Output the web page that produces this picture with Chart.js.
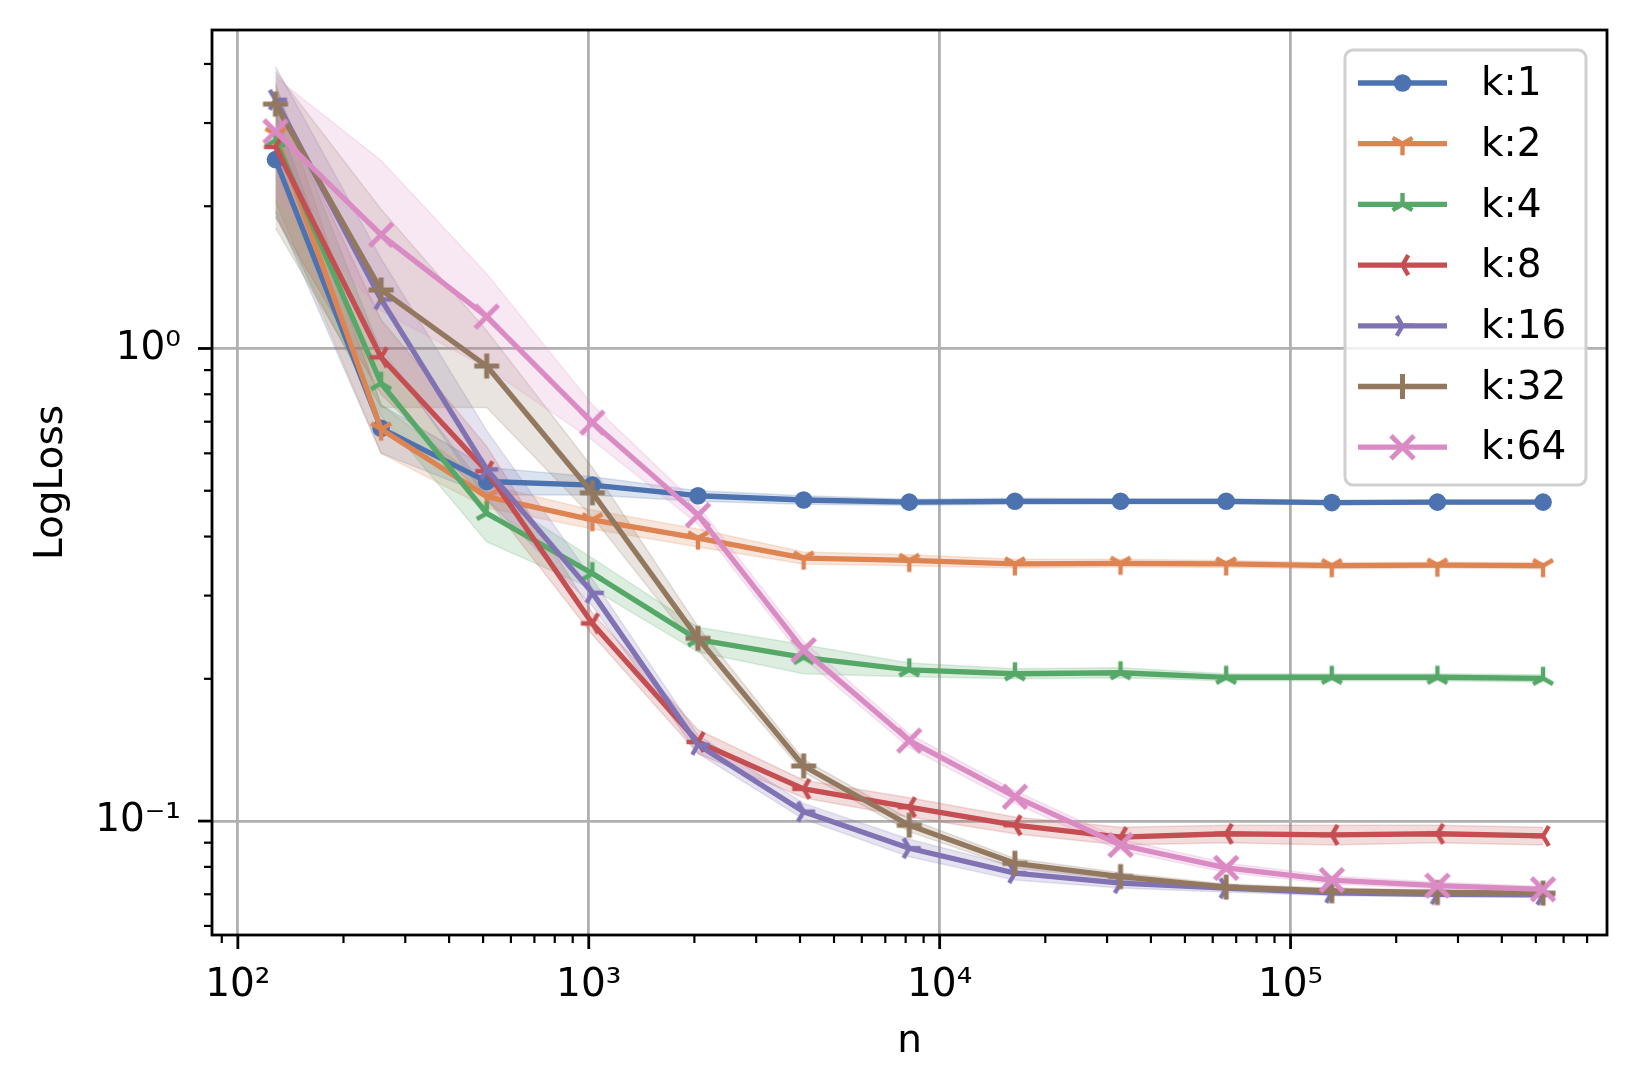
<!DOCTYPE html>
<html>
<head>
<meta charset="utf-8">
<script src="https://cdn.jsdelivr.net/npm/chart.js@4/dist/chart.umd.min.js"></script>
<style>
  html, body { margin: 0; padding: 0; background: #fff; }
  canvas { display: block; }
</style>
</head>
<body>
<canvas id="myChart" width="1636" height="1092"></canvas>
<script>
// sample sizes n
const nValues = [128, 256, 512, 1024, 2048, 4096, 8192, 16384, 32768, 65536, 131072, 262144, 524288];

// mean LogLoss per k
const loss_k1  = [2.51, 0.678, 0.523, 0.514, 0.488, 0.478, 0.473, 0.475, 0.475, 0.475, 0.472, 0.473, 0.473];
const loss_k2  = [2.84, 0.675, 0.486, 0.434, 0.397, 0.360, 0.356, 0.350, 0.351, 0.350, 0.347, 0.348, 0.347];
const loss_k4  = [2.76, 0.844, 0.448, 0.334, 0.242, 0.222, 0.209, 0.205, 0.206, 0.2015, 0.2015, 0.2015, 0.2005];
const loss_k8  = [2.67, 0.958, 0.550, 0.262, 0.147, 0.117, 0.107, 0.098, 0.0925, 0.094, 0.0935, 0.094, 0.093];
const loss_k16 = [3.36, 1.27, 0.555, 0.304, 0.145, 0.1047, 0.0876, 0.0776, 0.0739, 0.0721, 0.0705, 0.0700, 0.0698];
const loss_k32 = [3.29, 1.33, 0.918, 0.495, 0.2436, 0.1308, 0.098, 0.0814, 0.0763, 0.0725, 0.0712, 0.0706, 0.0704];
const loss_k64 = [2.88, 1.74, 1.168, 0.697, 0.444, 0.230, 0.148, 0.1126, 0.089, 0.0796, 0.0750, 0.0730, 0.0717];

// shaded band, lower and upper edge
const lo_k1  = [1.95, 0.60, 0.49, 0.49, 0.475, 0.468, 0.466, 0.468, 0.469, 0.469, 0.467, 0.468, 0.468];
const hi_k1  = [3.15, 0.76, 0.56, 0.535, 0.50, 0.488, 0.480, 0.482, 0.481, 0.481, 0.477, 0.478, 0.478];
const lo_k2  = [2.05, 0.60, 0.46, 0.415, 0.38, 0.350, 0.347, 0.343, 0.345, 0.344, 0.342, 0.343, 0.342];
const hi_k2  = [3.65, 0.76, 0.515, 0.455, 0.415, 0.371, 0.366, 0.358, 0.358, 0.356, 0.352, 0.353, 0.352];
const lo_k4  = [1.9, 0.72, 0.39, 0.31, 0.228, 0.205, 0.202, 0.200, 0.201, 0.198, 0.198, 0.198, 0.197];
const hi_k4  = [3.6, 0.98, 0.50, 0.36, 0.257, 0.236, 0.216, 0.210, 0.211, 0.205, 0.205, 0.205, 0.204];
const lo_k8  = [1.9, 0.80, 0.48, 0.248, 0.139, 0.112, 0.102, 0.094, 0.089, 0.090, 0.089, 0.090, 0.089];
const hi_k8  = [3.4, 1.15, 0.62, 0.276, 0.156, 0.122, 0.112, 0.102, 0.097, 0.098, 0.098, 0.098, 0.097];
const lo_k16 = [2.6, 1.0, 0.48, 0.285, 0.139, 0.101, 0.084, 0.075, 0.0722, 0.0708, 0.0695, 0.0692, 0.069];
const hi_k16 = [3.95, 1.55, 0.67, 0.325, 0.152, 0.109, 0.0915, 0.0802, 0.0757, 0.0735, 0.0716, 0.0709, 0.0706];
const lo_k32 = [1.8, 0.75, 0.75, 0.44, 0.23, 0.127, 0.095, 0.0795, 0.0750, 0.0715, 0.0703, 0.0698, 0.0696];
const hi_k32 = [3.85, 1.97, 1.09, 0.56, 0.258, 0.135, 0.101, 0.0833, 0.0777, 0.0736, 0.0722, 0.0715, 0.0713];
const lo_k64 = [2.1, 1.2, 0.91, 0.64, 0.425, 0.221, 0.143, 0.109, 0.0865, 0.0778, 0.0736, 0.0718, 0.0706];
const hi_k64 = [3.75, 2.5, 1.44, 0.76, 0.465, 0.240, 0.153, 0.116, 0.0915, 0.0815, 0.0765, 0.0742, 0.0728];

const seriesLabels = ['k:1', 'k:2', 'k:4', 'k:8', 'k:16', 'k:32', 'k:64'];

const xTickValues = [100, 1000, 10000, 100000];
const xTickLabels = ['10²', '10³', '10⁴', '10⁵'];
const yTickValues = [0.1, 1];
const yTickLabels = ['10⁻¹', '10⁰'];

const means = [loss_k1, loss_k2, loss_k4, loss_k8, loss_k16, loss_k32, loss_k64];
const lows  = [lo_k1, lo_k2, lo_k4, lo_k8, lo_k16, lo_k32, lo_k64];
const highs = [hi_k1, hi_k2, hi_k4, hi_k8, hi_k16, hi_k32, hi_k64];
const colors = ['76,114,176', '221,132,82', '85,168,104', '196,78,82', '129,114,179', '147,120,96', '218,139,195'];
const markers = ['circle', 'tri_down', 'tri_up', 'tri_left', 'tri_right', 'plus', 'x'];

const FONT = '"DejaVu Sans", sans-serif';

function drawMarker(g, kind, color) {
    g.strokeStyle = color;
    g.fillStyle = color;
    g.lineWidth = (kind === 'plus' || kind === 'x') ? 5 : 4.4;
    g.lineCap = 'butt';
    const L = 11.5;
    let segs = [];
    if (kind === 'circle') {
        g.beginPath();
        g.arc(0, 0, 8.8, 0, Math.PI * 2);
        g.fill();
        return;
    } else if (kind === 'tri_down') {
        segs = [[0, L], [-0.866 * L, -0.5 * L], [0.866 * L, -0.5 * L]];
    } else if (kind === 'tri_up') {
        segs = [[0, -L], [-0.866 * L, 0.5 * L], [0.866 * L, 0.5 * L]];
    } else if (kind === 'tri_left') {
        segs = [[-L, 0], [0.5 * L, -0.866 * L], [0.5 * L, 0.866 * L]];
    } else if (kind === 'tri_right') {
        segs = [[L, 0], [-0.5 * L, -0.866 * L], [-0.5 * L, 0.866 * L]];
    } else if (kind === 'plus') {
        segs = [[12.5, 0], [-12.5, 0], [0, 12.5], [0, -12.5]];
    } else if (kind === 'x') {
        segs = [[11.5, 11.5], [-11.5, -11.5], [11.5, -11.5], [-11.5, 11.5]];
    }
    g.beginPath();
    segs.forEach(p => { g.moveTo(0, 0); g.lineTo(p[0], p[1]); });
    g.stroke();
}

function markerCanvas(kind, color) {
    const c = document.createElement('canvas');
    c.width = 36; c.height = 36;
    const g = c.getContext('2d');
    g.translate(18, 18);
    drawMarker(g, kind, color);
    return c;
}

const datasets = [];
means.forEach((m, i) => {
    const col = 'rgb(' + colors[i] + ')';
    // band: upper edge filled down to the lower edge right after it
    datasets.push({
        data: highs[i].map((v, j) => ({ x: nValues[j], y: v })),
        borderColor: 'rgba(' + colors[i] + ',0.2)',
        backgroundColor: 'rgba(' + colors[i] + ',0.2)',
        borderWidth: 1.5,
        pointRadius: 0,
        fill: '+1',
        order: 50 - i
    });
    datasets.push({
        data: lows[i].map((v, j) => ({ x: nValues[j], y: v })),
        borderColor: 'rgba(' + colors[i] + ',0.2)',
        borderWidth: 1.5,
        pointRadius: 0,
        fill: false,
        order: 50 - i
    });
    datasets.push({
        label: seriesLabels[i],
        data: m.map((v, j) => ({ x: nValues[j], y: v })),
        borderColor: col,
        backgroundColor: col,
        borderWidth: 5.3,
        fill: false,
        pointStyle: markers[i] === 'circle' ? 'circle' : markerCanvas(markers[i], col),
        pointRadius: markers[i] === 'circle' ? 8.8 : 12,
        pointBorderWidth: 0,
        order: 20 - i
    });
});

// minor/major ticks, black frame
const framePlugin = {
    id: 'frame',
    afterDraw(chart) {
        const ctx = chart.ctx;
        const a = chart.chartArea;
        const xs = chart.scales.x, ys = chart.scales.y;
        ctx.save();
        ctx.strokeStyle = '#000';
        // x ticks
        for (let d = 1; d <= 5; d++) {
            for (let k = 1; k <= 9; k++) {
                const v = k * Math.pow(10, d);
                if (v < xs.min || v > xs.max) continue;
                const px = xs.getPixelForValue(v);
                const major = k === 1;
                ctx.lineWidth = major ? 2.8 : 2.2;
                ctx.beginPath();
                ctx.moveTo(px, a.bottom);
                ctx.lineTo(px, a.bottom + (major ? 14 : 8));
                ctx.stroke();
            }
        }
        // y ticks
        for (let d = -2; d <= 0; d++) {
            for (let k = 1; k <= 9; k++) {
                const v = k * Math.pow(10, d);
                if (v < ys.min || v > ys.max) continue;
                const py = ys.getPixelForValue(v);
                const major = k === 1;
                ctx.lineWidth = major ? 2.8 : 2.2;
                ctx.beginPath();
                ctx.moveTo(a.left, py);
                ctx.lineTo(a.left - (major ? 14 : 8), py);
                ctx.stroke();
            }
        }
        ctx.lineWidth = 2.8;
        ctx.strokeRect(a.left, a.top, a.right - a.left, a.bottom - a.top);
        ctx.restore();
    }
};

// matplotlib style legend in the upper right corner
const legendPlugin = {
    id: 'mplLegend',
    afterDraw(chart) {
        const ctx = chart.ctx;
        ctx.save();
        ctx.fillStyle = 'rgba(255,255,255,0.8)';
        ctx.strokeStyle = '#d0d0d0';
        ctx.lineWidth = 3;
        ctx.beginPath();
        ctx.roundRect(1345, 50, 241, 435, 8);
        ctx.fill();
        ctx.stroke();
        ctx.font = '39px ' + FONT;
        ctx.textBaseline = 'middle';
        ctx.textAlign = 'left';
        seriesLabels.forEach((lab, i) => {
            const y = 83 + i * 60.7;
            const col = 'rgb(' + colors[i] + ')';
            ctx.strokeStyle = col;
            ctx.lineWidth = 5.3;
            ctx.lineCap = 'butt';
            ctx.beginPath();
            ctx.moveTo(1358, y);
            ctx.lineTo(1447, y);
            ctx.stroke();
            ctx.save();
            ctx.translate(1402.5, y);
            drawMarker(ctx, markers[i], col);
            ctx.restore();
            ctx.fillStyle = '#000';
            ctx.fillText(lab, 1481, y + 2);
        });
        ctx.restore();
    }
};

const ctx = document.getElementById('myChart').getContext('2d');
const myChart = new Chart(ctx, {
    type: 'line',
    data: { datasets: datasets },
    options: {
        responsive: false,
        animation: false,
        devicePixelRatio: 1,
        layout: { padding: { top: 30, right: 29, left: 0, bottom: 0 } },
        plugins: {
            legend: { display: false },
            tooltip: { enabled: false }
        },
        elements: {
            line: { tension: 0, borderJoinStyle: 'round' }
        },
        scales: {
            x: {
                type: 'logarithmic',
                min: 84.4,
                max: 797600,
                afterBuildTicks: s => { s.ticks = xTickValues.map(v => ({ value: v })); },
                afterFit: s => { s.height = 157; s.paddingLeft = 0; s.paddingRight = 0; },
                ticks: {
                    callback: (v, i) => xTickLabels[i],
                    color: '#000',
                    padding: 27,
                    maxRotation: 0,
                    autoSkip: false,
                    font: { family: FONT, size: 39 }
                },
                grid: { color: '#b0b0b0', lineWidth: 2.8, drawTicks: false },
                border: { display: false },
                title: {
                    display: true,
                    text: 'n',
                    color: '#000',
                    font: { family: FONT, size: 39 },
                    padding: { top: 0, bottom: 27 }
                }
            },
            y: {
                type: 'logarithmic',
                min: 0.0574,
                max: 4.72,
                afterBuildTicks: s => { s.ticks = yTickValues.map(v => ({ value: v })); },
                afterFit: s => { s.width = 212; s.paddingTop = 0; s.paddingBottom = 0; },
                ticks: {
                    callback: (v, i) => yTickLabels[i],
                    color: '#000',
                    padding: 31,
                    autoSkip: false,
                    font: { family: FONT, size: 39 }
                },
                grid: { color: '#b0b0b0', lineWidth: 2.8, drawTicks: false },
                border: { display: false },
                title: {
                    display: true,
                    text: 'LogLoss',
                    color: '#000',
                    font: { family: FONT, size: 39 },
                    padding: { top: 28, bottom: 0 }
                }
            }
        }
    },
    plugins: [framePlugin, legendPlugin]
});
</script>
</body>
</html>
